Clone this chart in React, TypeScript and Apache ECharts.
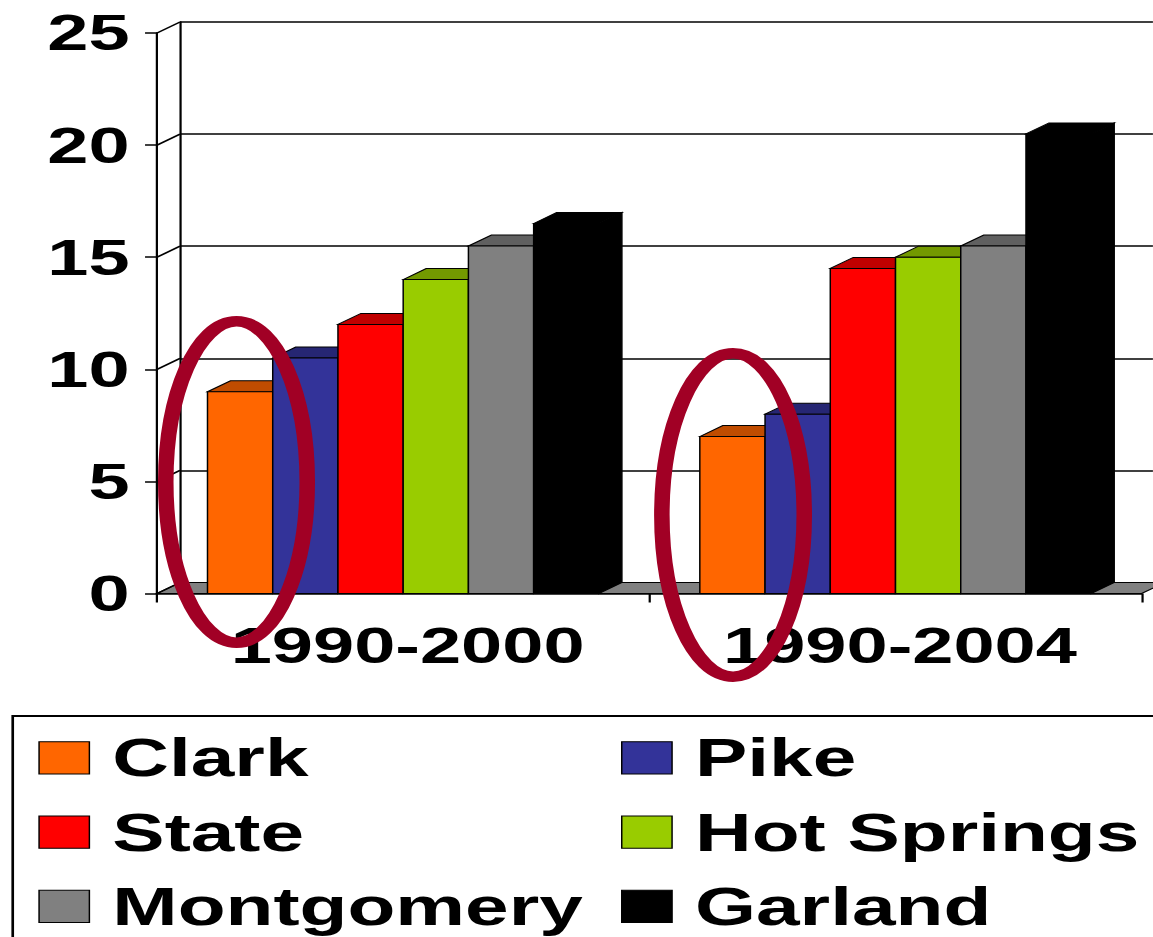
import React, { useEffect, useRef } from "react";
import * as echarts from "echarts";

// ---- data ----
const categories = ["1990-2000", "1990-2004"];
const counties = ["Clark", "Pike", "State", "Hot Springs", "Montgomery", "Garland"];
const clark = [9, 7];
const pike = [10.5, 8];
const state = [12, 14.5];
const hotSprings = [14, 15];
const montgomery = [15.5, 15.5];
const garland = [16.5, 20.5];
const yTicks = [0, 5, 10, 15, 20, 25];
const legendLeftColumn = ["Clark", "State", "Montgomery"];
const legendRightColumn = ["Pike", "Hot Springs", "Garland"];

const seriesValues = [clark, pike, state, hotSprings, montgomery, garland];
const frontColors = ["#FF6600", "#333399", "#FF0000", "#99CC00", "#808080", "#000000"];
const topColors = ["#C04C00", "#262673", "#C00000", "#739900", "#606060", "#000000"];

// ---- layout (pre-stretch space) ----
const STRETCH = 1.48;
const W = 779;
const H = 937;
const FONT = "'Liberation Sans', Arial, sans-serif";
const GRID_LEFT = 106.1;
const GRID_TOP = 33;
const GRID_W = 665.3;
const GRID_H = 560.5;
const DX = 15.54;
const DY = -11;
const BAR_FRAC = 0.1325;
const SIDE_FRAC = (1 - 6 * BAR_FRAC) / 2;
const LW = 1.5;

export default function App() {
  const ref = useRef<HTMLDivElement>(null);

  useEffect(() => {
    if (!ref.current) return;
    const chart = echarts.init(ref.current, undefined, { renderer: "svg" });

    const barSeries = counties.map((name, idx) => ({
      type: "custom",
      name,
      xAxisIndex: 0,
      yAxisIndex: 0,
      clip: false,
      itemStyle: { color: frontColors[idx] },
      encode: { x: 0, y: 1 },
      data: seriesValues[idx].map((v, i) => [i, v]),
      renderItem: (params: any, api: any) => {
        const cat = api.value(0);
        const val = api.value(1);
        const base = api.coord([cat, 0]);
        const topPt = api.coord([cat, val]);
        const catW = api.size([1, 0])[0];
        const bw = catW * BAR_FRAC;
        const x0 = base[0] - catW / 2 + catW * SIDE_FRAC + idx * bw;
        const x1 = x0 + bw;
        const y0 = base[1];
        const y1 = topPt[1];
        const stroke = "#000";
        return {
          type: "group",
          children: [
            {
              type: "polygon",
              shape: { points: [[x1, y1], [x1 + DX, y1 + DY], [x1 + DX, y0 + DY], [x1, y0]] },
              style: { fill: topColors[idx], stroke, lineWidth: 1 },
            },
            {
              type: "polygon",
              shape: { points: [[x0, y1], [x0 + DX, y1 + DY], [x1 + DX, y1 + DY], [x1, y1]] },
              style: { fill: topColors[idx], stroke, lineWidth: 1 },
            },
            {
              type: "rect",
              shape: { x: x0, y: y1, width: bw, height: y0 - y1 },
              style: { fill: frontColors[idx], stroke, lineWidth: 1 },
            },
          ],
        };
      },
    }));

    const floorSeries = {
      type: "custom",
      name: "floor",
      xAxisIndex: 0,
      yAxisIndex: 0,
      clip: false,
      silent: true,
      data: [[0, 0]],
      encode: { x: 0, y: 1 },
      renderItem: (params: any, api: any) => {
        const catW = api.size([1, 0])[0];
        const p = api.coord([0, 0]);
        const xL = p[0] - catW / 2;
        const xR = xL + catW * categories.length;
        const y0 = p[1];
        const children: any[] = [
          {
            type: "polygon",
            shape: { points: [[xL, y0], [xL + DX, y0 + DY], [xR + DX, y0 + DY], [xR, y0]] },
            style: { fill: "#808080", stroke: "#000", lineWidth: 1 },
          },
        ];
        yTicks.forEach((t) => {
          const y = api.coord([0, t])[1];
          children.push({
            type: "line",
            shape: { x1: xL, y1: y, x2: xL + DX, y2: y + DY },
            style: { stroke: "#000", lineWidth: LW },
          });
        });
        return { type: "group", children };
      },
    };

    const legendCommon = {
      orient: "vertical",
      top: 731.3,
      padding: 0,
      itemWidth: 34,
      itemHeight: 32.3,
      itemGap: 21.25,
      icon: "rect",
      selectedMode: false,
      itemStyle: { borderColor: "#000", borderWidth: 1 },
      textStyle: {
        fontFamily: FONT,
        fontWeight: "bold",
        fontSize: 53,
        color: "#000",
        padding: [0, 0, 0, 10.5],
      },
    };

    chart.setOption({
      animation: false,
      backgroundColor: "#fff",
      grid: [
        { left: GRID_LEFT, top: GRID_TOP, width: GRID_W, height: GRID_H },
        { left: GRID_LEFT + DX, top: GRID_TOP + DY, width: GRID_W, height: GRID_H },
      ],
      xAxis: [
        {
          type: "category",
          gridIndex: 0,
          data: categories,
          axisLine: { show: true, lineStyle: { color: "#000", width: LW } },
          axisTick: { show: true, length: 9, lineStyle: { color: "#000", width: LW } },
          axisLabel: {
            margin: 27,
            fontFamily: FONT,
            fontWeight: "bold",
            fontSize: 50,
            color: "#000",
            padding: [0, 0, 0, 6],
          },
          splitLine: { show: false },
        },
        { type: "category", gridIndex: 1, data: categories, show: false },
      ],
      yAxis: [
        {
          type: "value",
          gridIndex: 0,
          min: 0,
          max: 25,
          interval: 5,
          axisLine: { show: true, lineStyle: { color: "#000", width: LW } },
          axisTick: { show: true, length: 8.1, lineStyle: { color: "#000", width: LW } },
          axisLabel: {
            margin: 18.5,
            fontFamily: FONT,
            fontWeight: "bold",
            fontSize: 50,
            color: "#000",
            formatter: (v: number) => String(yTicks[yTicks.indexOf(v)]),
          },
          splitLine: { show: false },
        },
        {
          type: "value",
          gridIndex: 1,
          min: 0,
          max: 25,
          interval: 5,
          axisLine: { show: true, lineStyle: { color: "#000", width: LW } },
          axisTick: { show: false },
          axisLabel: { show: false },
          splitLine: { show: true, lineStyle: { color: "#000", width: LW } },
        },
      ],
      legend: [
        { ...legendCommon, left: 25.9, data: legendLeftColumn },
        { ...legendCommon, left: 419.6, data: legendRightColumn },
      ],
      graphic: [
        {
          type: "rect",
          z: 0,
          shape: { x: 8.6, y: 716, width: 900, height: 400 },
          style: { fill: "none", stroke: "#000", lineWidth: 1.8 },
          silent: true,
        },
        {
          type: "ellipse",
          z: 100,
          shape: { cx: 159.8, cy: 482, rx: 47.8, ry: 160.7 },
          style: { fill: "none", stroke: "#A10025", lineWidth: 10.5 },
          silent: true,
        },
        {
          type: "ellipse",
          z: 100,
          shape: { cx: 495.3, cy: 515, rx: 48.1, ry: 161.7 },
          style: { fill: "none", stroke: "#A10025", lineWidth: 10.5 },
          silent: true,
        },
      ],
      series: [floorSeries, ...barSeries],
    });

    return () => chart.dispose();
  }, []);

  return (
    <div
      style={{
        position: "absolute",
        left: 0,
        top: 0,
        width: 1153,
        height: H,
        overflow: "hidden",
        background: "#fff",
      }}
    >
      <div
        ref={ref}
        style={{
          width: W,
          height: H,
          transform: `scaleX(${STRETCH})`,
          transformOrigin: "0 0",
        }}
      />
    </div>
  );
}
